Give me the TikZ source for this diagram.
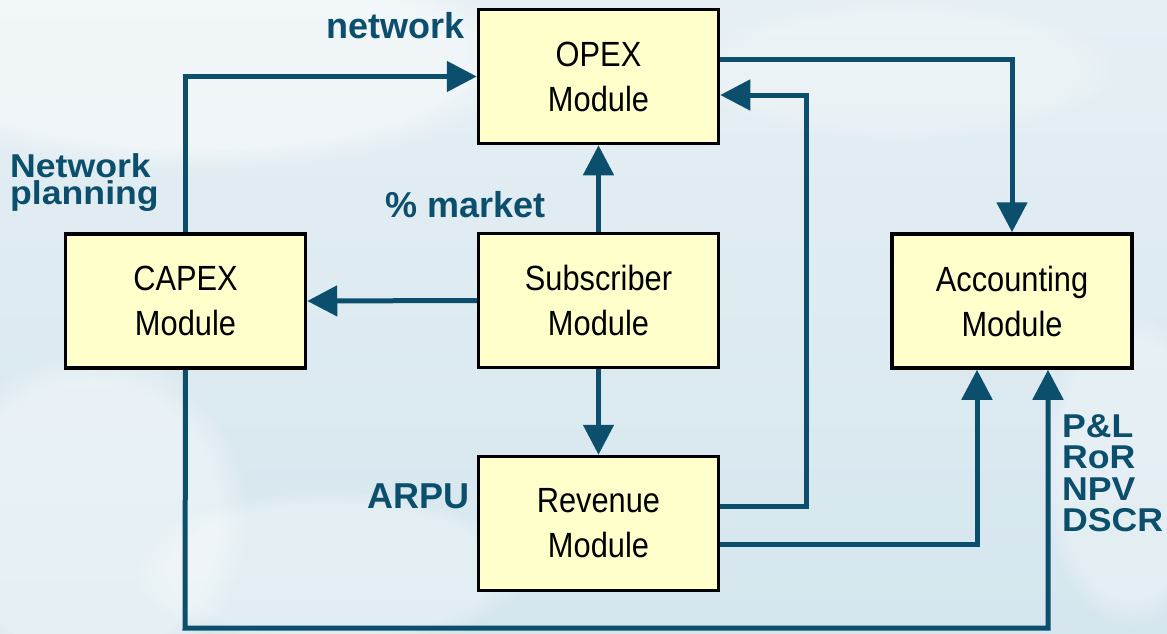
\documentclass[tikz,border=0pt]{standalone}
\usepackage{fontspec}
\setmainfont{Liberation Sans}
\newfontfamily\boxfont{Liberation Sans}[FakeStretch=0.88]
\newfontfamily\tagfont{Liberation Sans}[FakeStretch=1.08]
\usetikzlibrary{arrows.meta,calc,fadings}
\definecolor{flow}{HTML}{0B4F6C}
\definecolor{boxfill}{HTML}{FFFFCC}
\definecolor{bgtop}{HTML}{E6EFF4}
\definecolor{bgbot}{HTML}{D5E6EE}
\begin{document}
\begin{tikzpicture}[x=1pt,y=-1pt,
  module/.style={draw=black,line width=3.5pt,fill=boxfill,
    minimum width=240pt,minimum height=134pt,inner sep=0pt,
    align=center,font=\boxfont\fontsize{35}{45}\selectfont},
  flowline/.style={draw=flow,line width=5pt,
    -{Triangle[width=30pt,length=30pt]}},
  tag/.style={text=flow,inner sep=0pt,
    font=\tagfont\bfseries\fontsize{33}{27}\selectfont},
  bigtag/.style={text=flow,inner sep=0pt,
    font=\bfseries\fontsize{36}{36}\selectfont},
  glow/.style={fill=white,path fading=circle with fuzzy edge 20 percent}]
% soft background
\useasboundingbox (0,0) rectangle (1167,634);
\shade[top color=bgtop,bottom color=bgbot] (0,0) rectangle (1167,634);
\fill[glow,opacity=0.45] (200,60) ellipse (330 and 110);
\fill[glow,opacity=0.4] (90,520) ellipse (160 and 170);
\fill[glow,opacity=0.3] (330,570) ellipse (200 and 80);
\fill[glow,opacity=0.3] (1130,470) ellipse (90 and 160);
\fill[glow,opacity=0.25] (900,70) ellipse (220 and 70);

% modules
\node[module] (opex) at (598.5,76.5) {OPEX\\Module};
\node[module] (capex) at (185.5,301) {CAPEX\\Module};
\node[module] (sub) at (598.5,300.5) {Subscriber\\Module};
\node[module] (rev) at (598.5,523.5) {Revenue\\Module};
\node[module] (acc) at (1012,301) {Accounting\\Module};

% flows
\coordinate (rturn) at (806,95);
\coordinate (cbot) at (185,628);
\draw[flowline] (capex.north) |- (opex.west);
\draw[flowline] (sub.north) -- (opex.south);
\draw[flowline] (sub.west) -- (capex.east);
\draw[flowline] (sub.south) -- (rev.north);
\draw[flowline] ([yshift=16.5pt]opex.east) -| (acc.north);
\draw[flowline] ([yshift=17.5pt]rev.east) -| (rturn) -- (rturn -| opex.east);
\draw[flowline] ([yshift=-20.5pt]rev.east) -| ([xshift=-35pt]acc.south);
\draw[flowline] (capex.south) -- (cbot) -| ([xshift=36pt]acc.south);

% labels
\node[bigtag,anchor=base east] (lnet) at (465,39) {network};
\node[tag,anchor=west,align=left] (lplan) at (10,183) {Network\\planning};
\node[bigtag,anchor=base west] (lmkt) at (385,217) {\% market};
\node[bigtag,anchor=base east] (larpu) at (470,508) {ARPU};
\node[tag,anchor=north west,align=left,font=\tagfont\bfseries\fontsize{33}{31.5}\selectfont] (lfin) at (1062,414) {P\&L\\RoR\\NPV\\DSCR};
\end{tikzpicture}
\end{document}
